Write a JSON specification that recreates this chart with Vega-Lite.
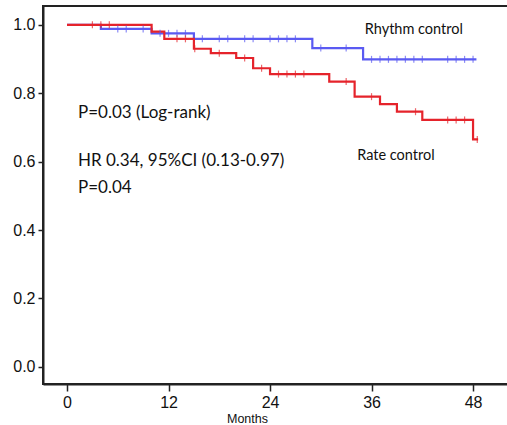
{
  "$schema": "https://vega.github.io/schema/vega-lite/v6.json",
  "width": 466,
  "height": 378,
  "autosize": {"type": "none"},
  "padding": {"left": 43, "top": 6, "right": 0, "bottom": 41},
  "background": "white",
  "config": {
    "view": {"stroke": "#222222", "strokeWidth": 2},
    "font": "Liberation Sans"
  },
  "datasets": {
    "steps": [
      {"group": "Rhythm control", "month": 0, "surv": 1.0},
      {"group": "Rhythm control", "month": 4.0, "surv": 0.988},
      {"group": "Rhythm control", "month": 10.0, "surv": 0.975},
      {"group": "Rhythm control", "month": 15.0, "surv": 0.959},
      {"group": "Rhythm control", "month": 29.0, "surv": 0.932},
      {"group": "Rhythm control", "month": 35.0, "surv": 0.899},
      {"group": "Rhythm control", "month": 48.4, "surv": 0.899},
      {"group": "Rate control", "month": 0, "surv": 1.0},
      {"group": "Rate control", "month": 10.0, "surv": 0.98},
      {"group": "Rate control", "month": 11.5, "surv": 0.959},
      {"group": "Rate control", "month": 15.0, "surv": 0.93},
      {"group": "Rate control", "month": 17.0, "surv": 0.917},
      {"group": "Rate control", "month": 20.0, "surv": 0.903},
      {"group": "Rate control", "month": 22.0, "surv": 0.873},
      {"group": "Rate control", "month": 24.0, "surv": 0.856},
      {"group": "Rate control", "month": 31.0, "surv": 0.834},
      {"group": "Rate control", "month": 34.0, "surv": 0.79},
      {"group": "Rate control", "month": 37.0, "surv": 0.768},
      {"group": "Rate control", "month": 39.0, "surv": 0.746},
      {"group": "Rate control", "month": 42.0, "surv": 0.722},
      {"group": "Rate control", "month": 48.0, "surv": 0.665},
      {"group": "Rate control", "month": 48.6, "surv": 0.665}
    ],
    "censors": [
      {"group": "Rhythm control", "month": 6.0, "surv": 0.988},
      {"group": "Rhythm control", "month": 7.0, "surv": 0.988},
      {"group": "Rhythm control", "month": 9.0, "surv": 0.988},
      {"group": "Rhythm control", "month": 11.0, "surv": 0.975},
      {"group": "Rhythm control", "month": 12.0, "surv": 0.975},
      {"group": "Rhythm control", "month": 13.0, "surv": 0.975},
      {"group": "Rhythm control", "month": 14.0, "surv": 0.975},
      {"group": "Rhythm control", "month": 16.0, "surv": 0.959},
      {"group": "Rhythm control", "month": 18.0, "surv": 0.959},
      {"group": "Rhythm control", "month": 19.0, "surv": 0.959},
      {"group": "Rhythm control", "month": 21.0, "surv": 0.959},
      {"group": "Rhythm control", "month": 22.0, "surv": 0.959},
      {"group": "Rhythm control", "month": 24.0, "surv": 0.959},
      {"group": "Rhythm control", "month": 25.0, "surv": 0.959},
      {"group": "Rhythm control", "month": 26.0, "surv": 0.959},
      {"group": "Rhythm control", "month": 27.0, "surv": 0.959},
      {"group": "Rhythm control", "month": 30.0, "surv": 0.932},
      {"group": "Rhythm control", "month": 33.0, "surv": 0.932},
      {"group": "Rhythm control", "month": 36.0, "surv": 0.899},
      {"group": "Rhythm control", "month": 37.0, "surv": 0.899},
      {"group": "Rhythm control", "month": 38.0, "surv": 0.899},
      {"group": "Rhythm control", "month": 39.0, "surv": 0.899},
      {"group": "Rhythm control", "month": 40.0, "surv": 0.899},
      {"group": "Rhythm control", "month": 41.0, "surv": 0.899},
      {"group": "Rhythm control", "month": 42.0, "surv": 0.899},
      {"group": "Rhythm control", "month": 45.0, "surv": 0.899},
      {"group": "Rhythm control", "month": 46.0, "surv": 0.899},
      {"group": "Rhythm control", "month": 47.0, "surv": 0.899},
      {"group": "Rhythm control", "month": 48.0, "surv": 0.899},
      {"group": "Rate control", "month": 3.0, "surv": 1.0},
      {"group": "Rate control", "month": 4.0, "surv": 1.0},
      {"group": "Rate control", "month": 5.0, "surv": 1.0},
      {"group": "Rate control", "month": 13.0, "surv": 0.959},
      {"group": "Rate control", "month": 14.0, "surv": 0.959},
      {"group": "Rate control", "month": 15.1, "surv": 0.93},
      {"group": "Rate control", "month": 18.0, "surv": 0.917},
      {"group": "Rate control", "month": 21.0, "surv": 0.903},
      {"group": "Rate control", "month": 23.0, "surv": 0.873},
      {"group": "Rate control", "month": 25.0, "surv": 0.856},
      {"group": "Rate control", "month": 26.0, "surv": 0.856},
      {"group": "Rate control", "month": 27.0, "surv": 0.856},
      {"group": "Rate control", "month": 28.0, "surv": 0.856},
      {"group": "Rate control", "month": 33.0, "surv": 0.834},
      {"group": "Rate control", "month": 36.0, "surv": 0.79},
      {"group": "Rate control", "month": 41.2, "surv": 0.746},
      {"group": "Rate control", "month": 45.0, "surv": 0.722},
      {"group": "Rate control", "month": 46.0, "surv": 0.722},
      {"group": "Rate control", "month": 47.0, "surv": 0.722},
      {"group": "Rate control", "month": 48.5, "surv": 0.665}
    ]
  },
  "layer": [
    {
      "data": {"name": "steps"},
      "mark": {"type": "line", "interpolate": "step-after", "strokeWidth": 2.2},
      "encoding": {
        "x": {
          "field": "month", "type": "quantitative",
          "scale": {"domain": [-2.84, 52.25], "nice": false, "zero": false},
          "axis": {
            "values": [0, 12, 24, 36, 48],
            "title": "Months",
            "grid": false,
            "domain": true,
            "domainColor": "#222222",
            "domainWidth": 2,
            "tickColor": "#222222",
            "tickWidth": 1.5,
            "tickSize": 7,
            "labelFontSize": 16,
            "labelColor": "#111111",
            "labelPadding": 3,
            "titleFontSize": 12.5,
            "titleFontWeight": "normal",
            "titleColor": "#111111",
            "titleX": 204,
            "titleY": 38,
            "titleBaseline": "alphabetic"
          }
        },
        "y": {
          "field": "surv", "type": "quantitative",
          "scale": {"domain": [-0.05, 1.055], "nice": false, "zero": false},
          "axis": {
            "values": [0, 0.2, 0.4, 0.6, 0.8, 1.0],
            "format": ".1f",
            "title": null,
            "grid": false,
            "domainColor": "#222222",
            "domainWidth": 2,
            "tickColor": "#222222",
            "tickWidth": 1.5,
            "tickSize": 5,
            "labelFontSize": 16,
            "labelColor": "#111111",
            "labelPadding": 3
          }
        },
        "color": {
          "field": "group", "type": "nominal",
          "scale": {"domain": ["Rhythm control", "Rate control"], "range": ["#5a5af2", "#e5232b"]},
          "legend": null
        },
        "detail": {"field": "group"}
      }
    },
    {
      "data": {"name": "censors"},
      "mark": {"type": "tick", "orient": "vertical", "size": 7, "thickness": 1.2},
      "encoding": {
        "x": {"field": "month", "type": "quantitative"},
        "y": {"field": "surv", "type": "quantitative"},
        "color": {"field": "group", "type": "nominal", "legend": null}
      }
    },
    {
      "data": {"values": [{"label": "P=0.03 (Log-rank)"}]},
      "mark": {"type": "text", "align": "left", "baseline": "alphabetic", "font": "Lato", "fontSize": 17, "color": "#111111"},
      "encoding": {"x": {"datum": 1.3}, "y": {"datum": 0.727}, "text": {"field": "label"}}
    },
    {
      "data": {"values": [{"label": "HR 0.34, 95%CI (0.13-0.97)"}]},
      "mark": {"type": "text", "align": "left", "baseline": "alphabetic", "font": "Lato", "fontSize": 17, "color": "#111111"},
      "encoding": {"x": {"datum": 1.3}, "y": {"datum": 0.586}, "text": {"field": "label"}}
    },
    {
      "data": {"values": [{"label": "P=0.04"}]},
      "mark": {"type": "text", "align": "left", "baseline": "alphabetic", "font": "Lato", "fontSize": 17, "color": "#111111"},
      "encoding": {"x": {"datum": 1.3}, "y": {"datum": 0.509}, "text": {"field": "label"}}
    },
    {
      "data": {"values": [{"label": "Rhythm control"}]},
      "mark": {"type": "text", "align": "left", "baseline": "alphabetic", "font": "Lato", "fontSize": 14.5, "color": "#111111"},
      "encoding": {"x": {"datum": 35.2}, "y": {"datum": 0.973}, "text": {"field": "label"}}
    },
    {
      "data": {"values": [{"label": "Rate control"}]},
      "mark": {"type": "text", "align": "left", "baseline": "alphabetic", "font": "Lato", "fontSize": 14.5, "color": "#111111"},
      "encoding": {"x": {"datum": 34.3}, "y": {"datum": 0.605}, "text": {"field": "label"}}
    }
  ]
}
